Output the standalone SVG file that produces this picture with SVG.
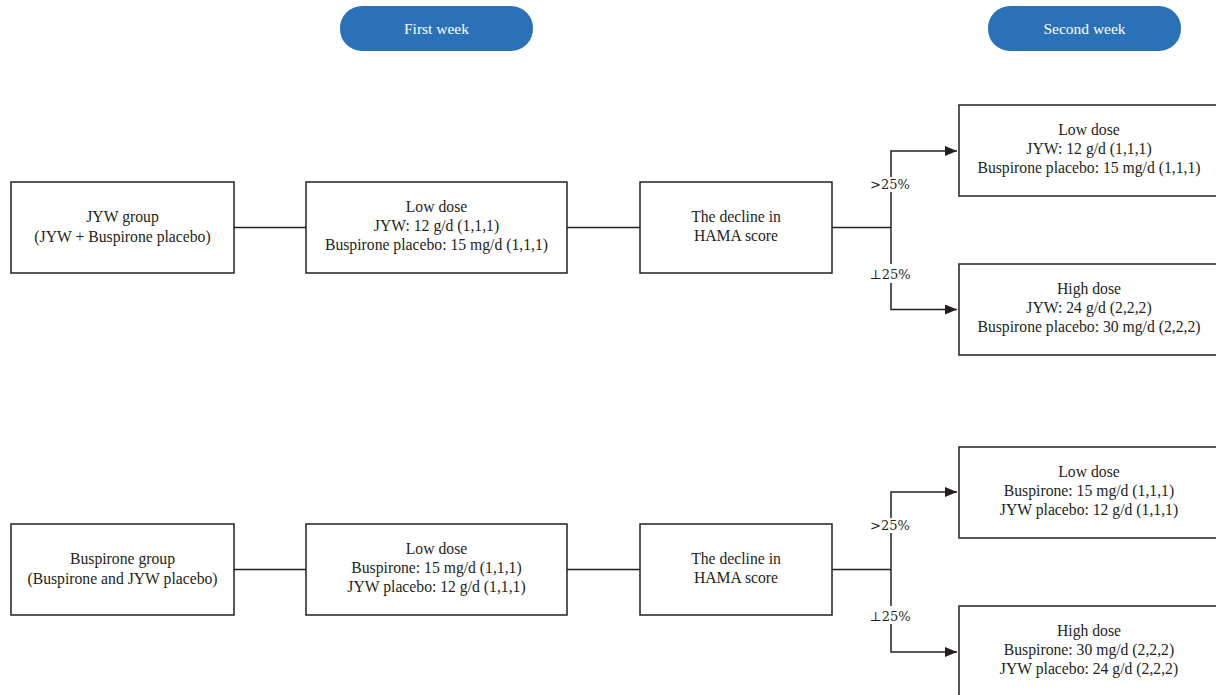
<svg xmlns="http://www.w3.org/2000/svg" width="1216" height="695" viewBox="0 0 1216 695">
<style>
.pill{fill:#2a72b8;}
.pt{fill:#ffffff;font-family:"Liberation Serif",serif;font-size:15.5px;text-anchor:middle;}
.box{fill:#ffffff;stroke:#231f20;stroke-width:1.5;}
.t{fill:#231f20;font-family:"Liberation Serif",serif;font-size:15.7px;text-anchor:middle;}
.ln{fill:none;stroke:#231f20;stroke-width:1.5;}
.lb{fill:#231f20;font-family:"DejaVu Serif","Liberation Serif",serif;font-size:13px;text-anchor:middle;}
</style>
<defs>
<marker id="ah" markerWidth="12" markerHeight="10" refX="12" refY="5" orient="auto" markerUnits="userSpaceOnUse">
<path d="M0,0 L12,5 L0,10 Z" fill="#231f20"/>
</marker>
</defs>
<rect width="1216" height="695" fill="#ffffff"/>
<g id="week1"><rect class="pill" x="340" y="6" width="193" height="45" rx="22"/><text class="pt" x="436.5" y="34">First week</text></g>
<g id="week2"><rect class="pill" x="988" y="6" width="193" height="45" rx="22"/><text class="pt" x="1084.5" y="34">Second week</text></g>

<g id="connectors">
<line class="ln" x1="234" y1="227.5" x2="306" y2="227.5"/>
<line class="ln" x1="567" y1="227.5" x2="640" y2="227.5"/>
<line class="ln" x1="832" y1="227.5" x2="891" y2="227.5"/>
<polyline class="ln" points="891,177 891,151 957,151" marker-end="url(#ah)"/>
<line class="ln" x1="891" y1="192" x2="891" y2="264"/>
<polyline class="ln" points="891,283 891,309.5 957,309.5" marker-end="url(#ah)"/>
<text class="lb" x="890" y="189">&gt;25%</text>
<text class="lb" x="890" y="279">⊥25%</text>

<line class="ln" x1="234" y1="569.5" x2="306" y2="569.5"/>
<line class="ln" x1="567" y1="569.5" x2="640" y2="569.5"/>
<line class="ln" x1="832" y1="569.5" x2="891" y2="569.5"/>
<polyline class="ln" points="891,518 891,492 957,492" marker-end="url(#ah)"/>
<line class="ln" x1="891" y1="533" x2="891" y2="606"/>
<polyline class="ln" points="891,624 891,652 957,652" marker-end="url(#ah)"/>
<text class="lb" x="890" y="530">&gt;25%</text>
<text class="lb" x="890" y="621">⊥25%</text>
</g>

<g id="jyw-group"><rect class="box" x="11" y="182" width="223" height="91"/>
<text class="t" x="122.5" y="222">JYW group</text><text class="t" x="122.5" y="242">(JYW + Buspirone placebo)</text></g>
<g id="jyw-low1"><rect class="box" x="306" y="182" width="261" height="91"/>
<text class="t" x="436.5" y="212">Low dose</text><text class="t" x="436.5" y="231">JYW: 12 g/d (1,1,1)</text><text class="t" x="436.5" y="250">Buspirone placebo: 15 mg/d (1,1,1)</text></g>
<g id="jyw-decline"><rect class="box" x="640" y="182" width="192" height="91"/>
<text class="t" x="736" y="222">The decline in</text><text class="t" x="736" y="241">HAMA score</text></g>
<g id="jyw-low2"><rect class="box" x="959" y="105" width="262" height="91"/>
<text class="t" x="1089" y="135">Low dose</text><text class="t" x="1089" y="154">JYW: 12 g/d (1,1,1)</text><text class="t" x="1089" y="173">Buspirone placebo: 15 mg/d (1,1,1)</text></g>
<g id="jyw-high2"><rect class="box" x="959" y="264" width="262" height="91"/>
<text class="t" x="1089" y="294">High dose</text><text class="t" x="1089" y="313">JYW: 24 g/d (2,2,2)</text><text class="t" x="1089" y="332">Buspirone placebo: 30 mg/d (2,2,2)</text></g>

<g id="bus-group"><rect class="box" x="11" y="524" width="223" height="91"/>
<text class="t" x="122.5" y="564">Buspirone group</text><text class="t" x="122.5" y="584">(Buspirone and JYW placebo)</text></g>
<g id="bus-low1"><rect class="box" x="306" y="524" width="261" height="91"/>
<text class="t" x="436.5" y="554">Low dose</text><text class="t" x="436.5" y="573">Buspirone: 15 mg/d (1,1,1)</text><text class="t" x="436.5" y="592">JYW placebo: 12 g/d (1,1,1)</text></g>
<g id="bus-decline"><rect class="box" x="640" y="524" width="192" height="91"/>
<text class="t" x="736" y="564">The decline in</text><text class="t" x="736" y="583">HAMA score</text></g>
<g id="bus-low2"><rect class="box" x="959" y="447" width="262" height="91"/>
<text class="t" x="1089" y="477">Low dose</text><text class="t" x="1089" y="496">Buspirone: 15 mg/d (1,1,1)</text><text class="t" x="1089" y="515">JYW placebo: 12 g/d (1,1,1)</text></g>
<g id="bus-high2"><rect class="box" x="959" y="606" width="262" height="100"/>
<text class="t" x="1089" y="636">High dose</text><text class="t" x="1089" y="655">Buspirone: 30 mg/d (2,2,2)</text><text class="t" x="1089" y="674">JYW placebo: 24 g/d (2,2,2)</text></g>
</svg>
